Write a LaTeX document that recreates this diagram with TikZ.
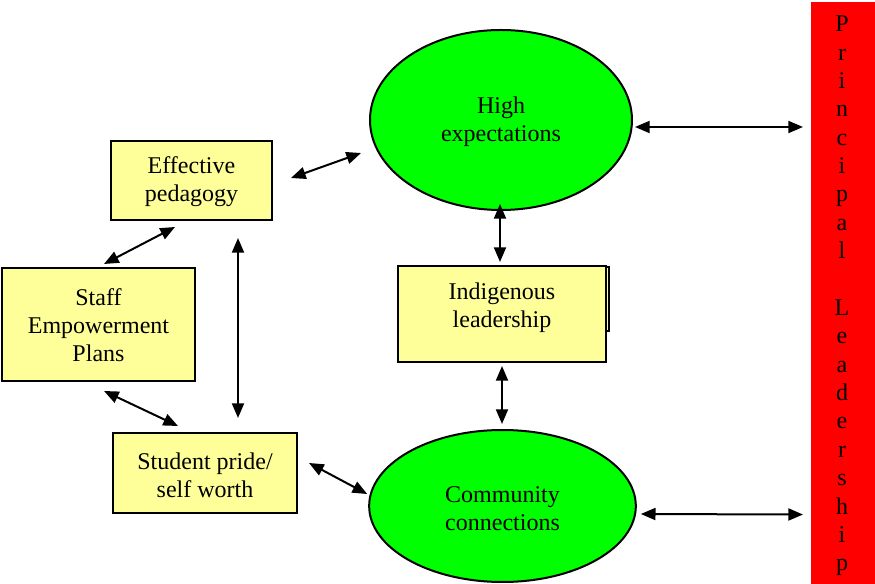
\documentclass[tikz,border=0pt]{standalone}
\usepackage{fontspec}
\setmainfont{Liberation Serif}
\usetikzlibrary{shapes.geometric,arrows.meta}
\definecolor{boxyellow}{HTML}{FFFF99}
\definecolor{ovalgreen}{HTML}{00FF00}
\definecolor{barred}{HTML}{FF0000}
\tikzset{
  txt/.style={font=\fontsize{18pt}{21pt}\selectfont, align=center, text=black},
  ybox/.style={draw=black, line width=1.5pt, fill=boxyellow, rectangle, inner sep=0pt, txt},
  goval/.style={draw=black, line width=1.5pt, fill=ovalgreen, ellipse, inner sep=0pt, txt},
  dbl/.style={line width=1.5pt, {Triangle[length=11pt,width=9pt]}-{Triangle[length=11pt,width=9pt]}}
}
\begin{document}
\begin{tikzpicture}[x=0.75pt, y=-0.75pt]
\useasboundingbox (0,0) rectangle (875,584);

% principal leadership bar
\node[fill=barred, rectangle, inner sep=0pt, minimum width=48pt, minimum height=436.5pt, anchor=north west] (pl) at (811,2) {};
\node[txt, font=\fontsize{18pt}{21.28pt}\selectfont] (pltxt) at (842,296) {P\\r\\i\\n\\c\\i\\p\\a\\l\\\mbox{}\\L\\e\\a\\d\\e\\r\\s\\h\\i\\p};

% ovals
\node[goval, minimum width=196.5pt, minimum height=135pt] (hi) at (501,120) {};
\node[txt] (hitxt) at (501,122) {High\\expectations};
\node[goval, minimum width=200pt, minimum height=114pt] (cc) at (502.5,506) {};
\node[txt] (cctxt) at (502.5,509) {Community\\connections};

% boxes
\node[ybox, minimum width=120.75pt, minimum height=59.25pt] (ep) at (191.5,180.5) {};
\node[txt] (eptxt) at (191.5,182) {Effective\\pedagogy};
\node[ybox, minimum width=144.75pt, minimum height=84.75pt] (sp) at (98.5,324.5) {};
\node[txt] (sptxt) at (98.5,325.5) {Staff\\Empowerment\\Plans};
\node[ybox, minimum width=138pt, minimum height=60pt] (st) at (205,473) {};
\node[txt] (sttxt) at (205,475) {Student pride/\\self worth};

% indigenous leadership: stacked box with a second sheet behind
\node[ybox, minimum width=156pt, minimum height=48pt, anchor=north east] (ilback) at (610,266) {};
\node[ybox, minimum width=156pt, minimum height=72pt] (il) at (502,314) {};
\node[txt] (iltxt) at (502,308) {Indigenous\\leadership};

% connectors
\draw[dbl] ([shift={(18,-2.5)}]ep.east) -- ([shift={(-8,33)}]hi.west);
\draw[dbl] ([shift={(-16.5,6)}]ep.south) -- ([shift={(5.5,-3)}]sp.north);
\draw[dbl] ([shift={(5.5,9)}]sp.south) -- ([shift={(-27,-6)}]st.north);
\draw[dbl] ([shift={(46.5,17)}]ep.south) -- ([shift={(33,-14)}]st.north);
\draw[dbl] ([shift={(-1,-7)}]hi.south) -- ([shift={(-2,-3)}]il.north);
\draw[dbl] ([shift={(0,3)}]il.south) -- ([shift={(-0.5,-5)}]cc.north);
\draw[dbl] ([shift={(11,-10)}]st.east) -- ([shift={(-1,-12)}]cc.west);
\draw[dbl] ([shift={(2,7)}]hi.east) -- ([shift={(-8,125)}]pl.north west);
\draw[dbl] ([shift={(4,8)}]cc.east) -- ([shift={(-8,-70)}]pl.south west);
\end{tikzpicture}
\end{document}
